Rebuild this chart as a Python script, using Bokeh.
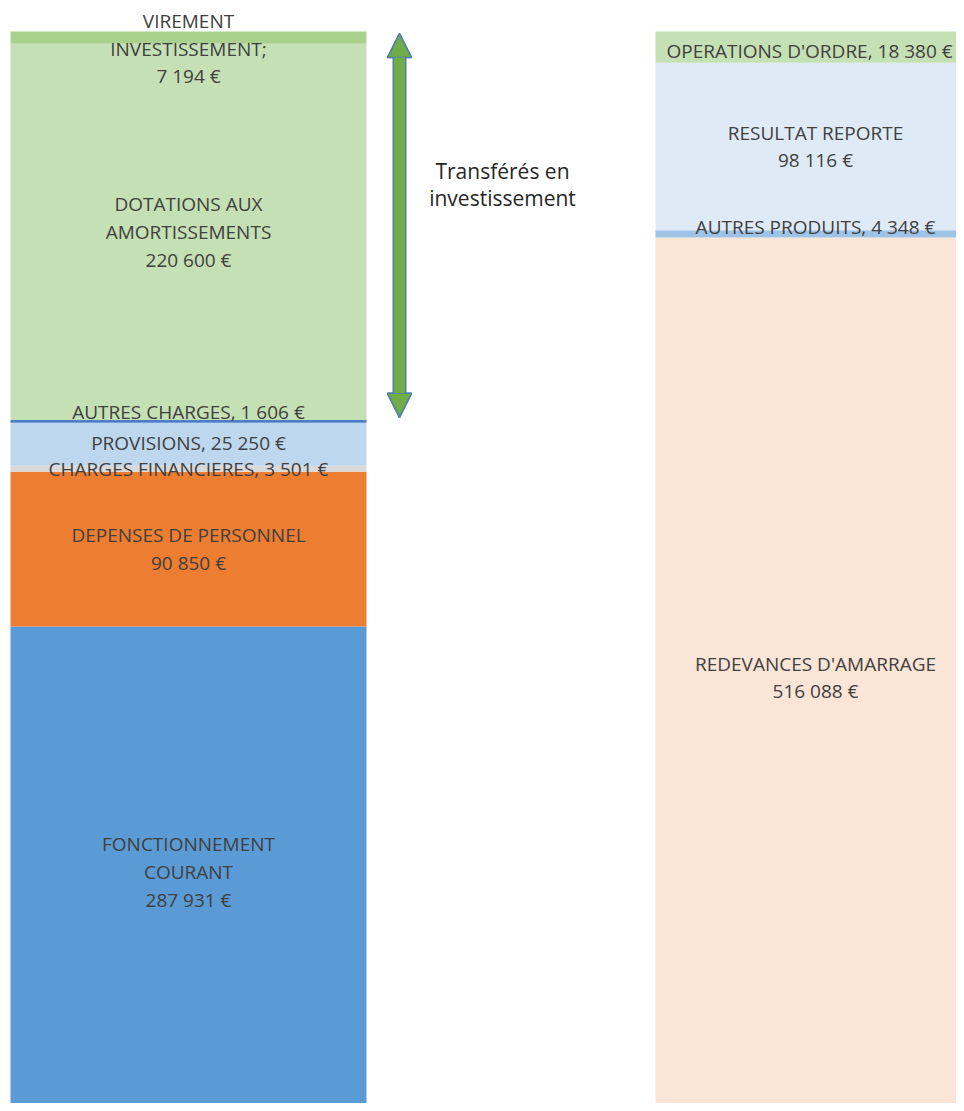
import numpy as np
from bokeh.plotting import figure
from bokeh.models import ColumnDataSource, Range1d, Arrow, NormalHead
from bokeh.core.properties import value
from bokeh.embed import file_html
from bokeh.resources import INLINE

# ---------------- data ----------------
columns = ["Dépenses", "Recettes"]

left_names = ["FONCTIONNEMENT\nCOURANT", "DEPENSES DE PERSONNEL", "CHARGES FINANCIERES",
              "PROVISIONS", "AUTRES CHARGES", "DOTATIONS AUX\nAMORTISSEMENTS",
              "VIREMENT\nINVESTISSEMENT;"]
left_values = [287931, 90850, 3501, 25250, 1606, 220600, 7194]
left_seps = ["\n", "\n", ", ", ", ", ", ", "\n", "\n"]

right_names = ["REDEVANCES D'AMARRAGE", "AUTRES PRODUITS", "RESULTAT REPORTE",
               "OPERATIONS D'ORDRE"]
right_values = [516088, 4348, 98116, 18380]
right_seps = ["\n", ", ", "\n", ", "]

arrow_text = "Transférés en\ninvestissement"

# ---------------- styles ----------------
left_colors = ["#5B9BD5", "#ED7D31", "#D9D9D9", "#BDD7EE", "#4A7EC6", "#C5E0B4", "#A9D18E"]
right_colors = ["#FBE5D6", "#9DC3E6", "#DEEBF7", "#C5E0B4"]
left_offsets = [0, 0, 0, -1, -9, 0, 11]
right_offsets = [0, -7, 0, 4]
left_xoffs = [0, 0, 0, 0, 0, 0, 0]
right_xoffs = [0, 0, 0, -6]
left_width = 0.5678
right_width = 0.5104
FONT = "Open Sans"
TEXT_COLOR = "#404040"


def fmt(v):
    return f"{v:,}".replace(",", " ") + " €"


def stack(x, names, vals, seps, colors, offs, xoffs):
    vals = np.array(vals, dtype=float)
    top = np.cumsum(vals)
    bottom = top - vals
    return dict(
        x=[x] * len(vals), bottom=bottom, top=top, mid=(bottom + top) / 2,
        color=colors, label=[n + s + fmt(v) for n, s, v in zip(names, seps, vals.astype(int))],
        off=offs, xoff=xoffs,
    )


total = sum(left_values)

p = figure(width=956, height=1103, output_backend="svg", toolbar_location=None,
           x_range=Range1d(-0.29984, 1.22488), y_range=Range1d(8193, 655114),
           min_border=0, outline_line_color=None, background_fill_color="white")
p.axis.visible = False
p.grid.visible = False

for i, (names, vals, seps, colors, offs, xoffs, w) in enumerate([
        (left_names, left_values, left_seps, left_colors, left_offsets, left_xoffs, left_width),
        (right_names, right_values, right_seps, right_colors, right_offsets, right_xoffs, right_width)]):
    src = ColumnDataSource(stack(i, names, vals, seps, colors, offs, xoffs))
    p.vbar(x="x", bottom="bottom", top="top", width=w, fill_color="color",
           line_color=None, source=src)
    p.text(x="x", y="mid", text="label", y_offset="off", x_offset="xoff", source=src,
           text_font=value(FONT), text_font_size="19px", text_color=TEXT_COLOR,
           text_align="center", text_baseline="middle", text_line_height=1.07)

# arrow for transferred amounts
y_low = sum(left_values[:5])
arrow_x = 0.3365
for lw, col in [(14, "#4F81AD"), (11, "#70AD47")]:
    p.add_layout(Arrow(x_start=arrow_x, y_start=y_low + 1500, x_end=arrow_x, y_end=total - 1200,
                       line_color=col, line_width=lw,
                       start=NormalHead(size=24, fill_color="#70AD47", line_color="#4F81AD", line_width=1.5),
                       end=NormalHead(size=24, fill_color="#70AD47", line_color="#4F81AD", line_width=1.5)))

p.text(x=[0.5008], y=[total - 89700], text=[arrow_text], text_font=value(FONT),
       text_font_size="21px", text_color="#262626", text_align="center",
       text_baseline="middle", text_line_height=0.98)

open("out.html", "w").write(file_html(p, INLINE))
